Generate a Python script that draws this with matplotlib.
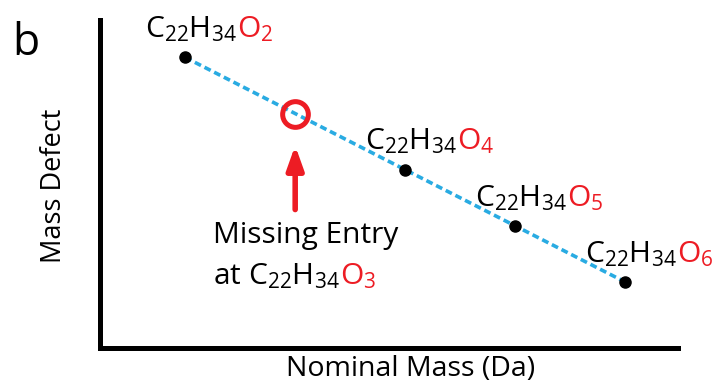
import numpy as np
import matplotlib
matplotlib.use("Agg")
import matplotlib.pyplot as plt

plt.rcParams['font.family'] = ['Open Sans', 'DejaVu Sans']
plt.rcParams['mathtext.default'] = 'regular'

# C22H34On series: nominal mass and mass defect
oxygens = [2, 3, 4, 5, 6]
nominal_mass = [330, 346, 362, 378, 394]
mass_defect = [0.2559, 0.2508, 0.2457, 0.2406, 0.2355]
missing = [False, True, False, False, False]

RED = '#ed1c24'
BLUE = '#29abe2'
FS = 21.5

fig = plt.figure(figsize=(7.22, 3.91), dpi=100)
ax = fig.add_axes([100/722, 43/391, 578/722, 328/391])

# dotted trend line through the series
ax.plot(nominal_mass, mass_defect, color=BLUE, lw=2.6, ls=(0, (1.9, 1.1)), zorder=1)

for n, m, d, miss in zip(oxygens, nominal_mass, mass_defect, missing):
    if miss:
        ax.plot(m, d, 'o', ms=18.5, mfc='none', mec=RED, mew=3.6, zorder=3)
        # arrow pointing up at the missing entry
        ax.annotate('', xy=(m, d), xytext=(0, -96), textcoords='offset pixels',
                    xycoords='data',
                    arrowprops=dict(arrowstyle='-|>,head_length=1.4,head_width=0.5',
                                    color=RED, lw=4, shrinkA=0, shrinkB=23))
        t1 = ax.annotate('Missing Entry', xy=(m, d), xytext=(-82, -136),
                         textcoords='offset pixels', fontsize=FS,
                         ha='left', va='bottom')
        t2 = ax.annotate(r'at C$_{22}$H$_{34}$', xy=(m, d), xytext=(-82, -178),
                         textcoords='offset pixels', fontsize=FS,
                         ha='left', va='bottom')
        ax.annotate('O$_{%d}$' % n, xy=(1, 0), xycoords=t2, fontsize=FS,
                    color=RED, ha='left', va='bottom')
        continue
    ax.plot(m, d, 'o', color='black', ms=8, zorder=3)
    t = ax.annotate(r'C$_{22}$H$_{34}$', xy=(m, d), xytext=(-40, 13),
                    textcoords='offset pixels', fontsize=FS,
                    ha='left', va='bottom')
    ax.annotate('O$_{%d}$' % n, xy=(1, 0), xycoords=t, fontsize=FS,
                color=RED, ha='left', va='bottom')

ax.set_xlim(317.6, 401.7)
ax.set_ylim(0.2295, 0.2593)
ax.set_xticks([])
ax.set_yticks([])
for side in ['top', 'right']:
    ax.spines[side].set_visible(False)
for side in ['left', 'bottom']:
    ax.spines[side].set_linewidth(3.6)

ax.set_xlabel('Nominal Mass (Da)', fontsize=20.5)
ax.xaxis.set_label_coords(0.537, -0.02, transform=ax.transAxes)
ax.xaxis.label.set_va('top')
ax.set_ylabel('Mass Defect', fontsize=19.5)
ax.yaxis.set_label_coords(-0.055, 0.495)

fig.text(12/722, 1 - 55/391, 'b', fontsize=32, ha='left', va='baseline')

fig.savefig('out.png', dpi=100)
